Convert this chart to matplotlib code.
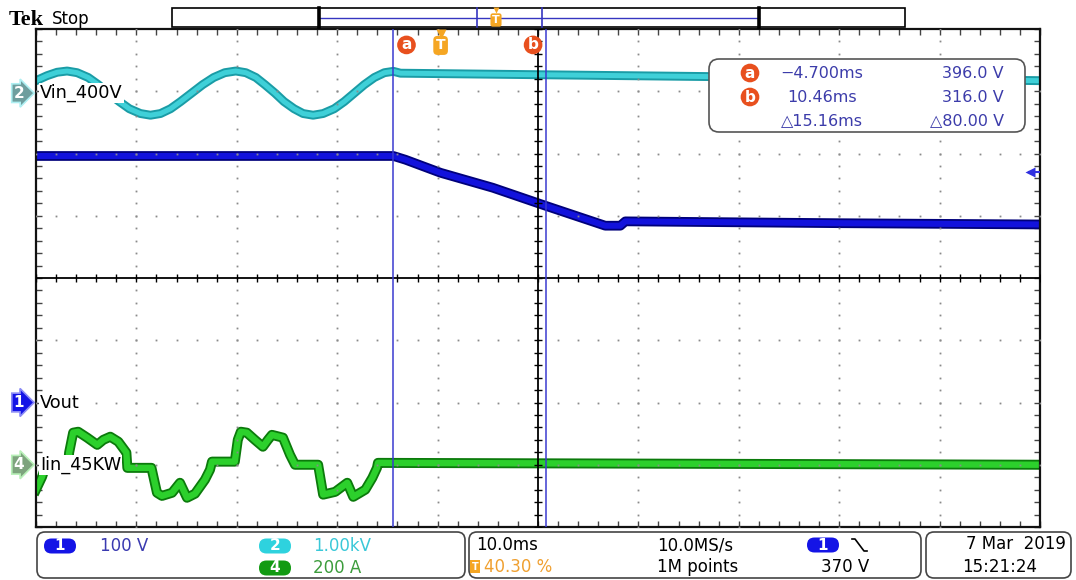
import numpy as np
import matplotlib

matplotlib.use("Agg")
import matplotlib.pyplot as plt
import matplotlib.patheffects as pe
from matplotlib import transforms
from matplotlib.patches import FancyBboxPatch, Rectangle

# acquisition settings
trig_pos = 40.30  # % of record before trigger
t_div = 10.0  # ms/div
ch_scale = {1: 100.0, 2: 1000.0, 4: 200.0}  # units/div
ch_offset = {1: -2.0, 2: 2.97, 4: -3.0}  # div
trig_level = 370.0  # V, ch1 falling edge
cursor_a = -4.7  # ms
cursor_b = 10.46  # ms

# ch2: Vin [ms], [V]
t_vin = [-40.3, -39.2, -38.2, -37.2, -36.2, -35.1, -34.1, -33.1, -32.0, -31.0,
         -29.9, -28.9, -27.9, -26.9, -25.9, -24.8, -23.7, -22.6, -21.5, -20.4,
         -19.4, -18.4, -17.5, -16.5, -15.6, -14.6, -13.7, -12.7, -11.7, -10.6,
         -9.6, -8.6, -7.6, -6.6, -5.6, -4.7, -4.0, 10.0, 30.0, 59.7]
vin = [200, 280, 335, 355, 328, 251, 136, 0, -136, -251,
       -328, -355, -328, -251, -136, 0, 136, 251, 328, 355,
       328, 251, 136, 0, -136, -251, -328, -355, -328, -251,
       -136, 0, 136, 251, 328, 350, 320, 295, 260, 200]

# ch1: Vout [ms], [V]
t_vout = [-40.3, -4.7, -3.5, 0.0, 5.2, 10.46, 16.4, 17.9, 18.4, 40.0, 59.7]
vout = [396, 396, 390, 369, 345, 316, 284, 284, 291, 288, 286]

# ch4: Iin [ms], [A]
t_iin = [-40.3, -39.7, -39.3, -37.1, -37.0, -36.6, -36.1, -35.2, -34.2, -33.6,
         -32.9, -32.1, -31.3, -31.2, -28.8, -28.25, -27.75, -26.75, -25.96, -25.26,
         -24.46, -23.47, -22.97, -22.77, -20.5, -20.2, -19.9, -19.3, -18.5, -17.7,
         -17.2, -16.8, -15.7, -15.0, -14.5, -12.2, -11.7, -10.5, -9.3, -8.7,
         -7.5, -6.8, -6.34, -6.24, 59.7]
iin = [-80, -39, 0, 0, 39, 103, 106, 87, 64, 80,
       90, 74, 39, -10, -10, -90, -100, -90, -58, -106,
       -93, -48, -16, 10, 10, 80, 106, 103, 80, 58,
       80, 96, 87, 32, 0, 0, -96, -87, -58, -103,
       -80, -42, -10, 6, 0]

trace_names = {2: "Vin_400V", 1: "Vout", 4: "Iin_45KW"}
scale_text = {1: "100 V", 2: "1.00kV", 4: "200 A"}
horiz_text = ["10.0ms", "40.30 %", "10.0MS/s", "1M points"]
trig_text = "370 V"
date_text = ["7 Mar  2019", "15:21:24"]

W, H = 1076, 580
L, R, T, B = 36, 1040, 29, 527
plt.rcParams["font.family"] = "DejaVu Sans"

fig = plt.figure(figsize=(W / 100, H / 100), dpi=100)
fig.patch.set_facecolor("white")
ax = fig.add_axes([L / W, 1 - B / H, (R - L) / W, (B - T) / H])

t0 = -trig_pos / 100 * 10 * t_div
t_center = t0 + 5 * t_div
ax.set_xlim(t0, t0 + 10 * t_div)
ax.set_ylim(-4, 4)


def to_div(vals, ch):
    return np.asarray(vals, dtype=float) / ch_scale[ch] + ch_offset[ch]


# graticule
x_minor = t0 + t_div / 5 * np.arange(51)
y_minor = np.linspace(-4, 4, 41)
grid_col = "#8a8a8a"
for k in range(1, 10):
    if k == 5:
        continue
    x = t0 + k * t_div
    ax.plot(np.full_like(y_minor, x), y_minor, ls="none", marker="s", ms=1.3,
            mec="none", color=grid_col, zorder=3)
for y in range(-3, 4):
    if y == 0:
        continue
    ax.plot(x_minor, np.full_like(x_minor, y), ls="none", marker="s", ms=1.3,
            mec="none", color=grid_col, zorder=3)
ax.axvline(t_center, color="black", lw=1.3, zorder=3)
ax.axhline(0, color="black", lw=1.3, zorder=3)
ax.plot(np.full_like(y_minor, t_center), y_minor, ls="none", marker="_", ms=6,
        mew=1, color="black", zorder=3)
ax.plot(x_minor, np.zeros_like(x_minor), ls="none", marker="|", ms=6,
        mew=1, color="black", zorder=3)

ax.set_xticks(x_minor)
ax.set_yticks(y_minor)
ax.tick_params(direction="in", length=4, width=1, color="#444444",
               top=True, right=True, labelbottom=False, labelleft=False)
for s in ax.spines.values():
    s.set_linewidth(1.6)
    s.set_color("#111111")

# traces
ax.plot(t_vin, to_div(vin, 2), color="#3FD0D8", lw=3.6, solid_joinstyle="round",
        path_effects=[pe.Stroke(linewidth=6.4, foreground="#1A9CA6"), pe.Normal()],
        zorder=2)
ax.plot(t_vout, to_div(vout, 1), color="#1212DC", lw=4.4, solid_joinstyle="round",
        path_effects=[pe.Stroke(linewidth=7.0, foreground="#00007A"), pe.Normal()],
        zorder=2)
ax.plot(t_iin, to_div(iin, 4), color="#2CD02C", lw=4.6, solid_joinstyle="round",
        path_effects=[pe.Stroke(linewidth=7.2, foreground="#0B7A0B"), pe.Normal()],
        zorder=2)

# cursors
cur_col = "#3A3AD0"
ax.axvline(cursor_a, color=cur_col, lw=1.1, zorder=4)
ax.axvline(cursor_b, color=cur_col, lw=1.1, zorder=4)

blend_y = transforms.blended_transform_factory(ax.transAxes, ax.transData)
blend_x = transforms.blended_transform_factory(ax.transData, ax.transAxes)

# trace names and channel markers
marker_style = {
    2: ("#6E9E9E", "#AEEFF2"),
    1: ("#1414E6", "#8A8AF5"),
    4: ("#7EA47E", "#B8F0B8"),
}
for ch in (2, 1, 4):
    ax.text(0.004, ch_offset[ch], trace_names[ch], transform=blend_y, ha="left",
            va="center", fontsize=12.8, zorder=6,
            bbox=dict(fc="white", ec="none", pad=0.6))
    fc, ec = marker_style[ch]
    ax.text(-0.017, ch_offset[ch], str(ch), transform=blend_y, ha="center",
            va="center", fontsize=11, fontweight="bold", color="white",
            clip_on=False, zorder=6,
            bbox=dict(boxstyle="rarrow,pad=0.12", fc=fc, ec=ec, lw=1.2))

# trigger level arrow (ch1)
trig_div = trig_level / ch_scale[1] + ch_offset[1]
t_end = t0 + 10 * t_div
ax.plot([t_end - 1.1, t_end], [trig_div, trig_div],
        color="#3030E0", lw=1.5, zorder=5)
ax.plot([t_end - 1.0], [trig_div], marker="<", ms=7, color="#3030E0",
        mec="none", zorder=5)

# cursor and trigger tags along the top
tag_col = "#E8501E"
ax.text(cursor_a + 1.3, 0.968, "a", transform=blend_x, ha="center", va="center",
        color="white", fontsize=11, fontweight="bold", zorder=6, clip_on=False,
        bbox=dict(boxstyle="circle,pad=0.12", fc=tag_col, ec="none"))
ax.text(cursor_b - 1.25, 0.968, "b", transform=blend_x, ha="center", va="center",
        color="white", fontsize=11, fontweight="bold", zorder=6, clip_on=False,
        bbox=dict(boxstyle="circle,pad=0.12", fc=tag_col, ec="none"))
ax.text(0.0, 0.967, "T", transform=blend_x, ha="center", va="center",
        color="white", fontsize=10, fontweight="bold", zorder=6, clip_on=False,
        bbox=dict(boxstyle="round,pad=0.18,rounding_size=0.3", fc="#F5A623", ec="none"))
ax.plot([0.0], [0.99], marker="v", ms=7, color="#F5A623", mec="none",
        transform=blend_x, clip_on=False, zorder=6)

# screen furniture in pixel coordinates
ov = fig.add_axes([0, 0, 1, 1], zorder=10)
ov.set_xlim(0, W)
ov.set_ylim(H, 0)
ov.axis("off")
ov.patch.set_alpha(0)

ov.text(9, 25, "Tek", fontfamily="Liberation Serif", fontweight="bold",
        fontsize=16, va="baseline")
ov.text(52, 24, "Stop", fontsize=12, va="baseline")

# record view bar
ov.add_patch(Rectangle((172, 8), 733, 19, fc="white", ec="black", lw=1.2))
ov.plot([320, 759], [17.5, 17.5], color="#3535C0", lw=1)
ov.plot([319, 319], [8, 27], color="black", lw=2.6)
ov.plot([759, 759], [8, 27], color="black", lw=2.6)
ov.plot([477, 477], [8, 27], color="#3535C0", lw=1.2)
ov.plot([542, 542], [8, 27], color="#3535C0", lw=1.2)
ov.text(496, 20, "T", ha="center", va="center", color="white", fontsize=8,
        fontweight="bold",
        bbox=dict(boxstyle="round,pad=0.15,rounding_size=0.2", fc="#F5A623", ec="none"))
ov.plot([496], [10], marker="v", ms=5, color="#F5A623", mec="none")

# cursor readout
va_ = np.interp(cursor_a, t_vout, vout)
vb_ = np.interp(cursor_b, t_vout, vout)
ro_col = "#3C3CAA"
ov.add_patch(FancyBboxPatch((709, 59), 316, 73,
                            boxstyle="round,pad=0,rounding_size=10",
                            fc="white", ec="#555555", lw=1.2))
rows = [
    ("a", f"{cursor_a:.3f}ms".replace("-", "\u2212"), f"{va_:.1f} V"),
    ("b", f"{cursor_b:.2f}ms", f"{vb_:.1f} V"),
    (None, f"\u25b3{cursor_b - cursor_a:.2f}ms", f"\u25b3{va_ - vb_:.2f} V"),
]
for i, (tag, tx, vx) in enumerate(rows):
    y = 73 + 24 * i
    if tag:
        ov.text(750, y, tag, ha="center", va="center", color="white", fontsize=11,
                fontweight="bold",
                bbox=dict(boxstyle="circle,pad=0.12", fc=tag_col, ec="none"))
    ov.text(822, y, tx, ha="center", va="center", color=ro_col, fontsize=11.5)
    ov.text(1004, y, vx, ha="right", va="center", color=ro_col, fontsize=11.5)


def pill(x, y, label, col):
    ov.add_patch(FancyBboxPatch((x - 16, y - 7.5), 32, 15,
                                boxstyle="round,pad=0,rounding_size=7.5",
                                fc=col, ec="none"))
    ov.text(x, y, label, ha="center", va="center", color="white", fontsize=11,
            fontweight="bold")


# vertical scale panel
ov.add_patch(FancyBboxPatch((37, 532), 428, 46, boxstyle="round,pad=0,rounding_size=8",
                            fc="white", ec="#444444", lw=1.2))
pill(60, 546, "1", "#1414E6")
ov.text(100, 546, scale_text[1], va="center", color="#3A3AB0", fontsize=12)
pill(275, 546, "2", "#2ED2DE")
ov.text(313, 546, scale_text[2], va="center", color="#3AC8D8", fontsize=12)
pill(275, 568, "4", "#129A12")
ov.text(313, 568, scale_text[4], va="center", color="#3C9C3C", fontsize=12)

# horizontal / trigger panel
ov.add_patch(FancyBboxPatch((469, 532), 452, 46, boxstyle="round,pad=0,rounding_size=8",
                            fc="white", ec="#444444", lw=1.2))
ov.text(476, 545, horiz_text[0], va="center", fontsize=12)
ov.add_patch(Rectangle((470, 560), 10, 13, fc="#F5A623", ec="none"))
ov.text(475, 566.5, "T", ha="center", va="center", color="white", fontsize=7,
        fontweight="bold")
ov.text(484, 567, horiz_text[1], va="center", color="#F0A030", fontsize=12)
ov.text(657, 545, horiz_text[2], va="center", fontsize=12)
ov.text(657, 567, horiz_text[3], va="center", fontsize=12)
pill(823, 545, "1", "#1414E6")
ov.plot([852, 855, 864, 867], [539, 539, 551, 551], color="black", lw=1.2)
ov.text(845, 567, trig_text, ha="center", va="center", fontsize=12)

# date panel
ov.add_patch(FancyBboxPatch((926, 532), 145, 46, boxstyle="round,pad=0,rounding_size=8",
                            fc="white", ec="#444444", lw=1.2))
ov.text(1066, 544, date_text[0], ha="right", va="center", fontsize=12)
ov.text(1000, 567, date_text[1], ha="center", va="center", fontsize=12)

plt.savefig("out.png", dpi=100)
